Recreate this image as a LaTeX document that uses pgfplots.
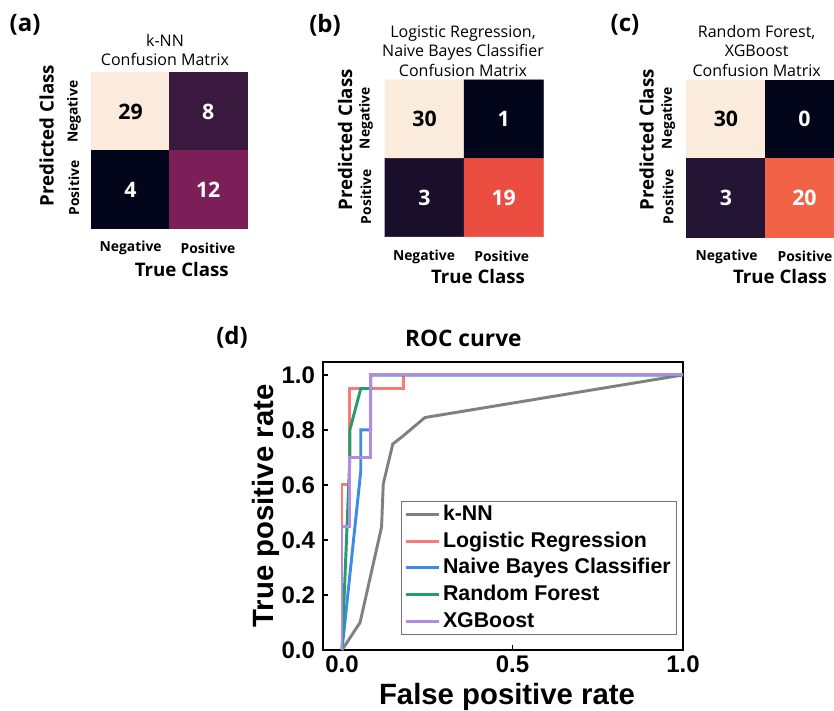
\documentclass[border=0pt]{standalone}
\usepackage{fontspec}
\setmainfont{Liberation Sans}
\newfontfamily\mg{Open Sans}
\usepackage{pgfplots}
\pgfplotsset{compat=1.18}
\newcommand\fs[2]{\fontsize{#1}{#2}\selectfont}
\pgfplotsset{colormap={rocket}{rgb255(0cm)=(3,5,26); rgb255(1cm)=(35,20,51); rgb255(2cm)=(74,29,71); rgb255(3cm)=(116,31,87); rgb255(4cm)=(158,28,91); rgb255(5cm)=(196,26,82); rgb255(6cm)=(232,68,63); rgb255(7cm)=(245,114,74); rgb255(8cm)=(246,160,122); rgb255(9cm)=(247,201,174); rgb255(10cm)=(250,235,221)}}
\pgfplotsset{cm/.style={colormap name=rocket, hide axis, scale only axis, xmin=-0.5,xmax=1.5,ymin=-0.5,ymax=1.5, y dir=reverse, anchor=north west, clip=false}}
\definecolor{knn}{RGB}{128,128,128}
\definecolor{lr}{RGB}{250,122,122}
\definecolor{nb}{RGB}{60,140,230}
\definecolor{rf}{RGB}{40,155,110}
\definecolor{xgb}{RGB}{178,140,225}
\tikzset{num/.style={font=\mg\bfseries\fs{16}{18}},
  tl/.style={font=\mg\bfseries\fs{10.4}{12}},
  al/.style={font=\mg\bfseries\fs{14}{16}},
  tt/.style={font=\mg\fs{12}{14.5}, align=center},
  pl/.style={font=\mg\bfseries\fs{18}{20}}}
\begin{document}
\begin{tikzpicture}
\useasboundingbox (0pt,0pt) rectangle (625.5pt,532.5pt);
\clip (0pt,0pt) rectangle (625.5pt,532.5pt);
% ---------- (a)
\begin{axis}[cm, at={(68.8pt,477.98pt)}, width=116.5pt, height=116.7pt]
\addplot[matrix plot*, mesh/cols=2, point meta=explicit] coordinates {(0,0) [29] (1,0) [8] (0,1) [4] (1,1) [12]};
\node[num, black] at (axis cs:0,0) {29};
\node[num, white] at (axis cs:1,0) {8};
\node[num, white] at (axis cs:0,1) {4};
\node[num, white] at (axis cs:1,1) {12};
\end{axis}
\node[pl] at (18.75pt,513.75pt) {(a)};
\node[tt] at (123.75pt,495pt) {k-NN\\Confusion Matrix};
\node[al, rotate=90] at (35pt,430.7pt) {Predicted Class};
\node[tl, rotate=90] at (55.5pt,448.7pt) {Negative};
\node[tl, rotate=90] at (55.5pt,391.5pt) {Positive};
\node[tl] at (98pt,346.5pt) {Negative};
\node[tl] at (156pt,346.5pt) {Positive};
\node[al] at (136.3pt,330pt) {True Class};
% ---------- (b)
\begin{axis}[cm, at={(288.75pt,472.5pt)}, width=118.7pt, height=117.5pt]
\addplot[matrix plot*, mesh/cols=2, point meta=explicit] coordinates {(0,0) [30] (1,0) [1] (0,1) [3] (1,1) [19]};
\node[num, black] at (axis cs:0,0) {30};
\node[num, white] at (axis cs:1,0) {1};
\node[num, white] at (axis cs:0,1) {3};
\node[num, white] at (axis cs:1,1) {19};
\end{axis}
\node[pl] at (243.75pt,513.75pt) {(b)};
\node[tt] at (347.25pt,494.3pt) {Logistic Regression,\\Naive Bayes Classifier\\Confusion Matrix};
\node[al, rotate=90] at (258.75pt,427.5pt) {Predicted Class};
\node[tl, rotate=90] at (274.5pt,443.8pt) {Negative};
\node[tl, rotate=90] at (274.5pt,385pt) {Positive};
\node[tl] at (318pt,340pt) {Negative};
\node[tl] at (376.3pt,340pt) {Positive};
\node[al] at (358.5pt,325pt) {True Class};
% ---------- (c)
\begin{axis}[cm, at={(515pt,472.5pt)}, width=117.75pt, height=118pt]
\addplot[matrix plot*, mesh/cols=2, point meta=explicit] coordinates {(0,0) [30] (1,0) [0] (0,1) [3] (1,1) [20]};
\node[num, black] at (axis cs:0,0) {30};
\node[num, white] at (axis cs:1,0) {0};
\node[num, white] at (axis cs:0,1) {3};
\node[num, white] at (axis cs:1,1) {20};
\end{axis}
\node[pl] at (468.75pt,513.75pt) {(c)};
\node[tt] at (567.5pt,494.3pt) {Random Forest,\\XGBoost\\Confusion Matrix};
\node[al, rotate=90] at (485pt,427.5pt) {Predicted Class};
\node[tl, rotate=90] at (501.2pt,443.8pt) {Negative};
\node[tl, rotate=90] at (501.2pt,385pt) {Positive};
\node[tl] at (545pt,340pt) {Negative};
\node[tl] at (603.75pt,340pt) {Positive};
\node[al] at (585pt,325pt) {True Class};
% ---------- (d)
\begin{axis}[at={(242.25pt,45pt)}, anchor=south west, scale only axis,
  width=270pt, height=216pt,
  xmin=-0.0557, xmax=1.0, ymin=0, ymax=1.047,
  xtick={0,0.5,1}, ytick={0,0.2,0.4,0.6,0.8,1.0},
  tick align=inside, xtick pos=left, ytick pos=left,
  major tick length=4pt,
  axis line style={line width=2pt},
  every tick/.style={black, line width=1.2pt},
  ticklabel style={font=\bfseries\fs{18}{18}, /pgf/number format/fixed, /pgf/number format/fixed zerofill, /pgf/number format/precision=1, /pgf/number format/assume math mode=true},
  xticklabel style={yshift=-1pt},
  yticklabel style={xshift=-2.5pt},
  legend cell align=left,
  legend image code/.code={\draw[#1] (-3pt,0pt) -- (22pt,0pt);},
  legend style={at={(0.2167,0.052)}, anchor=south west, draw=black!55, line width=0.6pt,
    font=\bfseries\fs{16}{20}, inner xsep=2pt, inner ysep=0pt, row sep=0pt,
    nodes={inner ysep=2pt, text height=12.5pt, text depth=3.5pt}},
]
\addplot[knn, line width=2.2pt] coordinates {(0,0) (0.053,0.10) (0.116,0.447) (0.121,0.604) (0.149,0.749) (0.18,0.779) (0.243,0.845) (1,1)};
\addlegendentry{k-NN}
\addplot[lr, line width=2.2pt] coordinates {(0,0) (0,0.6) (0.023,0.6) (0.023,0.95) (0.18,0.95) (0.18,1.0) (1,1)};
\addlegendentry{Logistic Regression}
\addplot[nb, line width=2.2pt] coordinates {(0,0) (0.055,0.65) (0.055,0.8) (0.084,0.8) (0.084,1.0) (1,1)};
\addlegendentry{Naive Bayes Classifier}
\addplot[rf, line width=2.2pt] coordinates {(0,0) (0.023,0.7) (0.023,0.8) (0.055,0.95) (0.084,0.95) (0.084,1.0) (1,1)};
\addlegendentry{Random Forest}
\addplot[xgb, line width=2.2pt] coordinates {(0,0) (0,0.45) (0.023,0.45) (0.023,0.7) (0.084,0.7) (0.084,1.0) (1,1)};
\addlegendentry{XGBoost}
\end{axis}
\node[pl] at (174pt,279.75pt) {(d)};
\node[font=\mg\bfseries\fs{17}{20}] at (347.5pt,279pt) {ROC curve};
\node[font=\bfseries\fs{22}{24}, rotate=90, anchor=base] at (205pt,153pt) {True positive rate};
\node[font=\bfseries\fs{22}{24}, anchor=base] at (380.25pt,4.5pt) {False positive rate};
\end{tikzpicture}
\end{document}
